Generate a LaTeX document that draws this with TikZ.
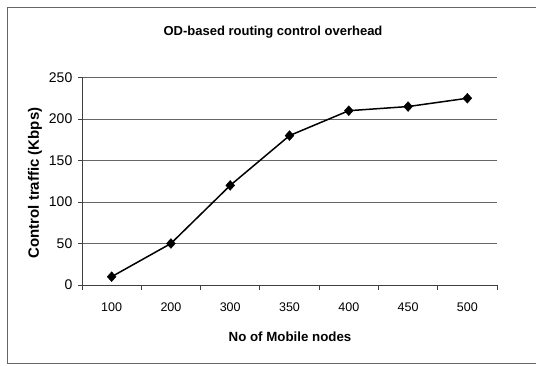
\documentclass[tikz,border=0pt]{standalone}
\usepackage{fontspec}
\setmainfont{Liberation Sans}
\usetikzlibrary{shapes.geometric}
\begin{document}
\begin{tikzpicture}[x=1pt,y=-1pt,
  grid/.style={draw=black!60, line width=0.6pt},
  axisline/.style={draw=black!75, line width=0.8pt},
  series/.style={draw=black, line width=1.5pt, line join=round},
  marker/.style={draw=black, fill=black, shape=diamond, inner sep=0pt, minimum width=9pt, minimum height=10pt},
  xticklbl/.style={font=\fontsize{12.5}{14}\selectfont},
  yticklbl/.style={font=\fontsize{14}{15}\selectfont},
  titlelbl/.style={font=\bfseries\fontsize{13}{15}\selectfont}]
\useasboundingbox (0,0) rectangle (536,366);
% chart frame
\draw[black!60, line width=0.8pt] (536,7) -- (7.5,7) -- (7.5,363) -- (536,363);
% horizontal gridlines and value labels
\foreach \v in {0,50,...,250} {
  \pgfmathsetmacro{\yy}{285-\v/250*207.5}
  \ifnum\v>0 \draw[grid] (82,\yy) -- (497,\yy); \fi
  \draw[axisline] (78,\yy) -- (82,\yy);
  \node[yticklbl, anchor=east, inner sep=0pt] (yl\v) at (72.5,\yy) {\v};
}
% axes
\draw[axisline] (82,77.5) -- (82,285) -- (497,285);
\foreach \i in {0,...,7} {
  \pgfmathsetmacro{\xx}{82+\i*415/7}
  \draw[axisline] (\xx,285) -- (\xx,290);
}
% category labels
\foreach \c [count=\i from 0] in {100,200,300,350,400,450,500} {
  \pgfmathsetmacro{\xx}{82+(\i+0.5)*415/7}
  \node[xticklbl] (xl\i) at (\xx,307.5) {\c};
}
% data series
\foreach \v [count=\i from 0] in {10,50,120,180,210,215,225} {
  \pgfmathsetmacro{\xx}{82+(\i+0.5)*415/7}
  \pgfmathsetmacro{\yy}{285-\v/250*207.5}
  \coordinate (p\i) at (\xx,\yy);
}
\draw[series] (p0) -- (p1) -- (p2) -- (p3) -- (p4) -- (p5) -- (p6);
\foreach \i in {0,...,6} \node[marker] (m\i) at (p\i) {};
% titles
\node[titlelbl] (title) at (273,32.5) {OD-based routing control overhead};
\node[titlelbl, font=\bfseries\fontsize{13.3}{15}\selectfont] (xtitle) at (290,337) {No of Mobile nodes};
\node[titlelbl, font=\bfseries\fontsize{15}{17}\selectfont, rotate=90] (ytitle) at (35,183) {Control traffic (Kbps)};
\end{tikzpicture}
\end{document}
